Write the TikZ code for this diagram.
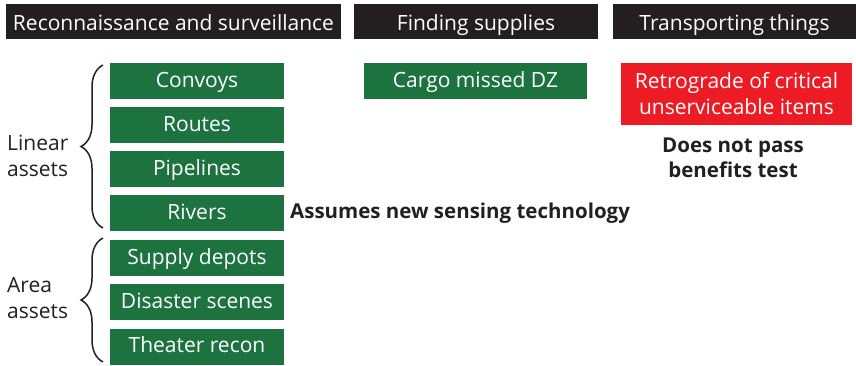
\documentclass[tikz,border=0pt]{standalone}
\usepackage{fontspec}
\setmainfont{Open Sans}
\usetikzlibrary{decorations.pathreplacing}
\definecolor{headblack}{HTML}{231F20}
\definecolor{assetgreen}{HTML}{1C733F}
\definecolor{failred}{HTML}{ED1C24}
\tikzset{
	headbox/.style={fill=headblack, text=white, minimum height=35pt, inner sep=0pt, text height=17pt, text depth=0pt, font=\fontsize{21}{25.5}\selectfont},
	greenbox/.style={fill=assetgreen, text=white, minimum width=174pt, minimum height=36pt, inner sep=0pt, text height=15.5pt, text depth=3pt, font=\fontsize{21}{25.5}\selectfont},
	redbox/.style={fill=failred, text=white, minimum width=231pt, minimum height=62pt, inner sep=0pt, align=center, font=\fontsize{21}{26}\selectfont},
	sidelabel/.style={text=headblack, anchor=west, align=left, inner sep=0pt, font=\fontsize{21}{25.5}\selectfont},
	notelabel/.style={text=headblack, inner sep=0pt, align=center, font=\fontsize{20.5}{25.5}\selectfont\bfseries},
	assetbrace/.style={decorate, decoration={brace, amplitude=22pt}, line width=1.5pt, color=headblack}
}
\begin{document}
\begin{tikzpicture}[x=1pt, y=1pt]
			%%%%% START %%%%%
			\useasboundingbox (0,0) rectangle (856,-365);
			
			\node[headbox, minimum width=335pt] (recon) at (173.5,-21.5) {Reconnaissance and surveillance};
			\node[headbox, minimum width=244pt] (finding) at (476,-21.5) {Finding supplies};
			\node[headbox, minimum width=243pt] (transport) at (734.5,-21.5) {Transporting things};
			
			\node[greenbox] (convoys) at (197,-81) {Convoys};
			\node[greenbox] (routes) at (197,-125) {Routes};
			\node[greenbox] (pipelines) at (197,-169) {Pipelines};
			\node[greenbox] (rivers) at (197,-213) {Rivers};
			\node[greenbox] (depots) at (197,-258) {Supply depots};
			\node[greenbox] (disaster) at (197,-302) {Disaster scenes};
			\node[greenbox] (theater) at (197,-346.5) {Theater recon};
			
			\node[greenbox, minimum width=223pt] (cargo) at (475.5,-81) {Cargo missed DZ};
			\node[redbox] (retro) at (736.5,-94) {Retrograde of critical\\unserviceable items};
			
			\node[notelabel] (benefits) at (733,-158) {Does not pass\\benefits test};
			\node[notelabel, anchor=west] (sensing) at (290,-213) {Assumes new sensing technology};
			
			\node[sidelabel] (linear) at (7,-156) {Linear\\assets};
			\node[sidelabel] (area) at (7,-298) {Area\\assets};
			
			\draw[assetbrace] (103,-228) -- (103,-65);
			\draw[assetbrace] (103,-362) -- (103,-238);
			%%%%% END %%%%%
		\end{tikzpicture}
\end{document}
